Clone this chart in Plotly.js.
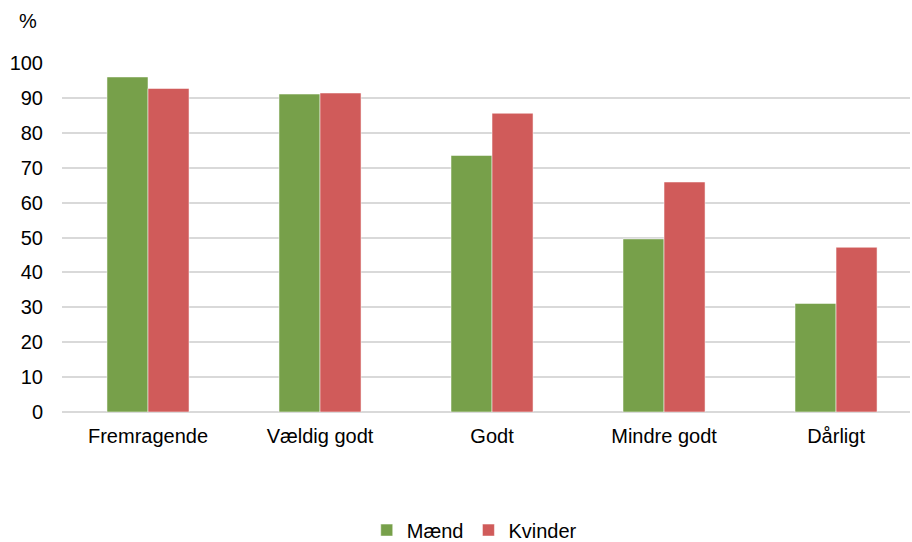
<!DOCTYPE html>
<html><head><meta charset="utf-8">
<script src="https://cdn.plot.ly/plotly-3.0.1.min.js"></script>
<style>body{margin:0;padding:0;background:#fff}#chart{width:912px;height:542px}</style>
</head><body><div id="chart"></div>
<script>
const categories = ["Fremragende", "Vældig godt", "Godt", "Mindre godt", "Dårligt"];
const maend = [96.0, 91.1, 73.5, 49.6, 31.1];
const kvinder = [92.7, 91.4, 85.6, 65.9, 47.2];
const yTicks = [0, 10, 20, 30, 40, 50, 60, 70, 80, 90, 100];

const font = {family: "Liberation Sans, Arial, sans-serif", size: 20, color: "#000"};
const traces = [
  {type: "bar", name: "Mænd", x: categories, y: maend,
   marker: {color: "#77A04A", line: {color: "rgba(255,255,255,0.5)", width: 1}}},
  {type: "bar", name: "Kvinder", x: categories, y: kvinder,
   marker: {color: "#D05B5A", line: {color: "rgba(255,255,255,0.5)", width: 1}}}
];
const layout = {
  width: 912, height: 542,
  margin: {l: 62, r: 2, t: 63, b: 130, autoexpand: false},
  paper_bgcolor: "#fff", plot_bgcolor: "#fff",
  font: font,
  barmode: "group", bargap: 0.523, bargroupgap: 0,
  xaxis: {type: "category", range: [-0.5, 4.43], showgrid: false, zeroline: false,
          showline: false, ticks: "", tickfont: font, ticklabelstandoff: 10, automargin: false},
  yaxis: {range: [0, 100], tickvals: yTicks, ticktext: yTicks.map(String),
          showgrid: true, gridcolor: "#D9D9D9", gridwidth: 2, zeroline: true,
          zerolinecolor: "#D9D9D9", zerolinewidth: 2, showline: false, ticks: "",
          tickfont: font, ticklabelstandoff: 18, automargin: false},
  showlegend: true,
  legend: {orientation: "h", x: 0.52, xanchor: "center", xref: "container",
           y: 0.022, yanchor: "middle", yref: "container",
           font: font, itemwidth: 30, traceorder: "normal"},
  annotations: [{text: "%", xref: "paper", yref: "paper", x: -0.04, y: 1.12,
                 xanchor: "center", yanchor: "middle", showarrow: false, font: font}]
};
Plotly.newPlot("chart", traces, layout, {displayModeBar: false, staticPlot: true});
</script></body></html>
